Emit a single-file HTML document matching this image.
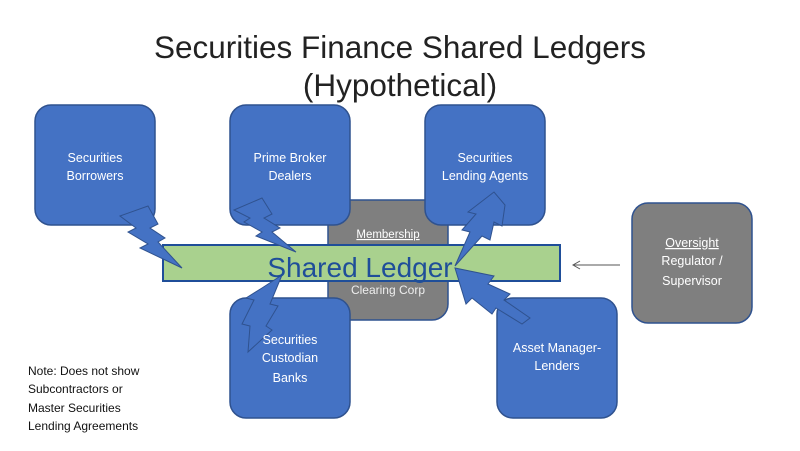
<!DOCTYPE html>
<html><head><meta charset="utf-8"><style>
body{margin:0;background:#fff;}
svg{display:block;font-family:"Liberation Sans",sans-serif;}
</style></head><body>
<svg width="800" height="451" viewBox="0 0 800 451" xmlns="http://www.w3.org/2000/svg">
<rect width="800" height="451" fill="#fff"/>
<text x="400" y="58" text-anchor="middle" font-size="31.5" fill="#222">Securities Finance Shared Ledgers</text>
<text x="400" y="96" text-anchor="middle" font-size="31.5" fill="#222">(Hypothetical)</text>

<g stroke="#2f528f" stroke-width="1.5">
<rect x="328" y="200" width="120" height="120" rx="16" fill="#7f7f7f"/>
<rect x="632" y="203" width="120" height="120" rx="16" fill="#7f7f7f"/>
<rect x="35" y="105" width="120" height="120" rx="16" fill="#4472c4"/>
<rect x="230" y="105" width="120" height="120" rx="16" fill="#4472c4"/>
<rect x="425" y="105" width="120" height="120" rx="16" fill="#4472c4"/>
<rect x="230" y="298" width="120" height="120" rx="16" fill="#4472c4"/>
<rect x="497" y="298" width="120" height="120" rx="16" fill="#4472c4"/>
</g>
<rect x="163" y="245" width="397" height="36" fill="#a9d18e" stroke="#1f4e99" stroke-width="2"/>

<g fill="#4472c4" stroke="#2f528f" stroke-width="1">
<polygon points="120,216 148,206 158,224 150,228 165,238 158,242 182,268 140,248 148,244 128,232 136,228"/>
<polygon points="234,210 262,198 272,214 264,218 280,228 272,232 296,252 256,236 262,232 244,222 250,218"/>
<polygon points="505,205 502,226 494,222 490,240 482,236 455,266 470,232 462,230 476,214 468,212 494,192"/>
<polygon points="455,268 494,276 488,284 510,294 504,300 530,318 522,324 496,308 492,314 472,298 466,304"/>
<polygon points="282,275 270,304 278,306 266,326 272,330 248,352 250,326 242,324 254,300 246,298 262,288"/>
</g>

<text x="360" y="277" text-anchor="middle" font-size="28" fill="#1f4e99">Shared Ledger</text>
<text x="388" y="238" text-anchor="middle" font-size="11.5" fill="#fff" text-decoration="underline">Membership</text>
<text x="388" y="294" text-anchor="middle" font-size="12" fill="#eee">Clearing Corp</text>

<g fill="#fff" font-size="12.5" text-anchor="middle">
<text x="95" y="162">Securities</text><text x="95" y="180">Borrowers</text>
<text x="290" y="162">Prime Broker</text><text x="290" y="180">Dealers</text>
<text x="485" y="162">Securities</text><text x="485" y="180">Lending Agents</text>
<text x="290" y="344">Securities</text><text x="290" y="362">Custodian</text><text x="290" y="382">Banks</text>
<text x="557" y="352">Asset Manager-</text><text x="557" y="370">Lenders</text>
<text x="692" y="247" text-decoration="underline">Oversight</text><text x="692" y="265">Regulator /</text><text x="692" y="285">Supervisor</text>
</g>

<line x1="620" y1="265" x2="574" y2="265" stroke="#555" stroke-width="1"/>
<polyline points="580,261 573,265 580,269" fill="none" stroke="#555" stroke-width="1"/>

<g font-size="12" fill="#111">
<text x="28" y="375">Note: Does not show</text>
<text x="28" y="393">Subcontractors or</text>
<text x="28" y="412">Master Securities</text>
<text x="28" y="430">Lending Agreements</text>
</g>
</svg>
</body></html>
